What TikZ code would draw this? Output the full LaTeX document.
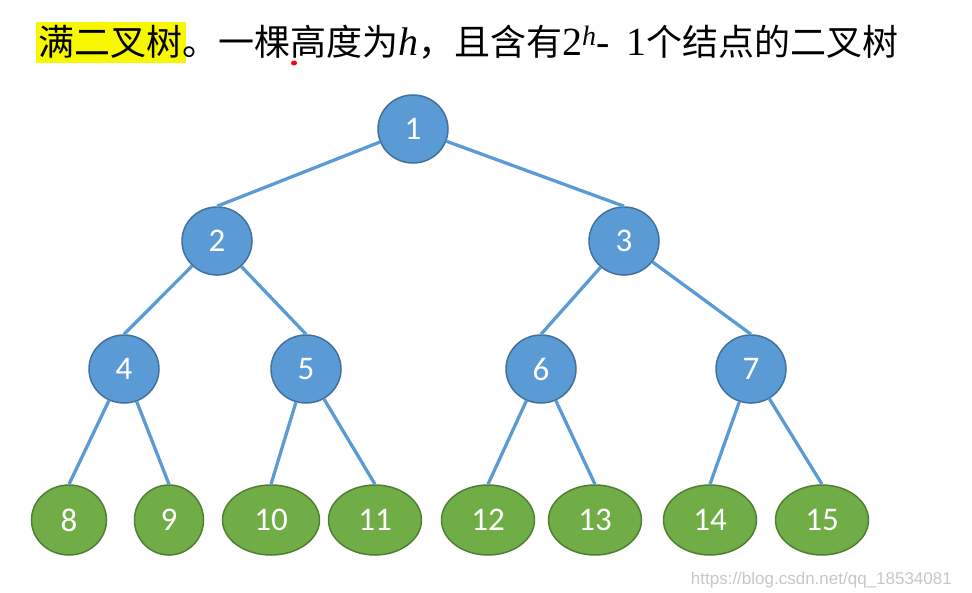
\documentclass[tikz,border=0pt]{standalone}
\usepackage{fontspec}
\setmainfont{Liberation Serif}
\newfontfamily\cjk{Noto Sans CJK SC}
\newfontfamily\numfont{Carlito}
\newfontfamily\wmfont{Liberation Sans}
\usetikzlibrary{shapes.geometric}
\definecolor{nblue}{HTML}{5B9BD5}
\definecolor{nbluedark}{HTML}{41719C}
\definecolor{ngreen}{HTML}{70AD47}
\definecolor{ngreendark}{HTML}{507E32}
\definecolor{hlyellow}{HTML}{F7F700}
\tikzset{
  inner/.style={ellipse, draw=nbluedark, line width=1.5pt, fill=nblue, text=white,
    minimum width=70pt, minimum height=68pt, inner sep=0pt,
    font=\numfont\fontsize{33}{33}\selectfont},
  leaf/.style={ellipse, draw=ngreendark, line width=1.5pt, fill=ngreen, text=white,
    minimum height=70pt, inner sep=0pt,
    font=\numfont\fontsize{33}{33}\selectfont},
  edge/.style={draw=nblue, line width=3.3pt},
}
\begin{document}
\begin{tikzpicture}[x=1pt,y=-1pt]
\useasboundingbox (0,0) rectangle (972,592);
% title
\fill[hlyellow] (36,22) rectangle (186,63);
\node[anchor=base west, inner sep=0pt, font=\fontsize{36}{36}\selectfont] (title) at (38,55)
  {{\cjk 满二叉树。一棵高度为}{\fontsize{40}{40}\selectfont\textit{h}}{\cjk ，且含有}{\fontsize{40}{40}\selectfont 2\textsuperscript{\textit{h}}-\, 1}{\cjk 个结点的二叉树}};
\fill[red] (294,63) ellipse (3pt and 2.5pt);
% nodes
\node[inner] (n1) at (413,129) {1};
\node[inner] (n2) at (217,241) {2};
\node[inner] (n3) at (624,241) {3};
\node[inner] (n4) at (124,369) {4};
\node[inner] (n5) at (306,369) {5};
\node[inner] (n6) at (541,369) {6};
\node[inner] (n7) at (751,369) {7};
\node[leaf, minimum width=75pt] (n8) at (69,520) {8};
\node[leaf, minimum width=69pt] (n9) at (169,520) {9};
\node[leaf, minimum width=97pt] (n10) at (271,520) {10};
\node[leaf, minimum width=93pt] (n11) at (375,520) {11};
\node[leaf, minimum width=93pt] (n12) at (488,520) {12};
\node[leaf, minimum width=93pt] (n13) at (595,520) {13};
\node[leaf, minimum width=93pt] (n14) at (710,520) {14};
\node[leaf, minimum width=93pt] (n15) at (822,520) {15};
% edges
\draw[edge] (n1) -- (n2.north);
\draw[edge] (n1) -- (n3.north);
\draw[edge] (n2) -- (n4.north);
\draw[edge] (n2) -- (n5.north);
\draw[edge] (n3) -- (n6.north);
\draw[edge] (n3) -- (n7.north);
\draw[edge] (n4) -- (n8.north);
\draw[edge] (n4) -- (n9.north);
\draw[edge] (n5) -- (n10.north);
\draw[edge] (n5) -- (n11.north);
\draw[edge] (n6) -- (n12.north);
\draw[edge] (n6) -- (n13.north);
\draw[edge] (n7) -- (n14.north);
\draw[edge] (n7) -- (n15.north);
% watermark
\node[anchor=base east, inner sep=0pt, text=black!22, font=\wmfont\fontsize{17}{17}\selectfont] (wm) at (952,584) {https://blog.csdn.net/qq\_18534081};
\end{tikzpicture}
\end{document}
